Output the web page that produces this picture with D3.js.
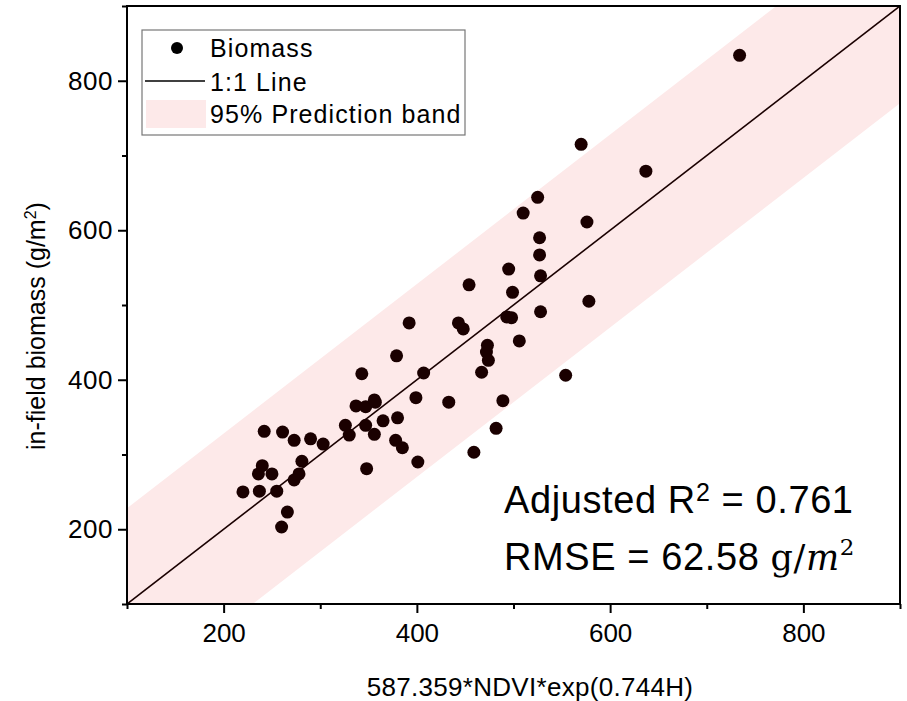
<!DOCTYPE html>
<html>
<head>
<meta charset="utf-8">
<script src="https://cdn.jsdelivr.net/npm/d3@7"></script>
<style>
  body { margin: 0; background: #fff; }
  text { font-family: "Liberation Sans", Arial, sans-serif; fill: #000; }
</style>
</head>
<body>
<div id="chart"></div>
<script>
// predicted biomass (587.359*NDVI*exp(0.744H))
const predicted = [734, 570, 637, 525, 510, 576, 527, 527, 495, 528, 454, 499, 578, 528, 493, 498,
  392, 443, 448, 506, 473, 472, 474, 467, 379, 343, 407, 554, 337, 347, 356, 357, 399, 433, 489,
  242, 261, 273, 290, 303, 326, 330, 347, 365, 380, 356, 378, 385, 401, 348, 281, 278, 273, 240,
  236, 250, 220, 237, 255, 266, 260, 482, 459];
// in-field biomass (g/m2)
const measured = [834, 715, 679, 644, 623, 611, 590, 567, 548, 539, 527, 517, 505, 491, 484, 483,
  476, 476, 468, 452, 446, 437, 426, 410, 432, 408, 409, 406, 365, 364, 373, 370, 376, 370, 372,
  331, 330, 319, 321, 314, 339, 326, 339, 345, 349, 327, 319, 309, 290, 281, 291, 274, 266, 285,
  274, 274, 250, 251, 251, 223, 203, 335, 303];

// 95% prediction band edges
const bandX = [100, 900];
const bandLower = [-30, 770];
const bandUpper = [228, 1028];

const majorTicks = [200, 400, 600, 800];
const minorTicks = [100, 300, 500, 700, 900];

const W = 907, H = 701;
const margin = { top: 6, right: 7, bottom: 97, left: 127 };
const width = W - margin.left - margin.right;
const height = H - margin.top - margin.bottom;

const svg = d3.select('#chart').append('svg')
  .attr('width', W)
  .attr('height', H);

const g = svg.append('g')
  .attr('transform', `translate(${margin.left},${margin.top})`);

const x = d3.scaleLinear().domain([100, 900]).range([0, width]);
const y = d3.scaleLinear().domain([100, 900]).range([height, 0]);

g.append('defs').append('clipPath').attr('id', 'plot-clip')
  .append('rect').attr('width', width).attr('height', height);

const plot = g.append('g').attr('clip-path', 'url(#plot-clip)');

// band
const band = bandX.map((v, i) => ({ x: v, lo: bandLower[i], hi: bandUpper[i] }));
plot.append('path')
  .datum(band)
  .attr('fill', '#fde9e9')
  .attr('d', d3.area().x(d => x(d.x)).y0(d => y(d.lo)).y1(d => y(d.hi)));

// 1:1 line
plot.append('line')
  .attr('x1', x(100)).attr('y1', y(100))
  .attr('x2', x(900)).attr('y2', y(900))
  .attr('stroke', '#1a0000')
  .attr('stroke-width', 1.6);

// points
plot.selectAll('.pt')
  .data(predicted.map((p, i) => [p, measured[i]]))
  .enter().append('circle')
  .attr('class', 'pt')
  .attr('cx', d => x(d[0]))
  .attr('cy', d => y(d[1]))
  .attr('r', 6.5)
  .attr('fill', '#1a0000');

// axes
function styleAxis(sel) {
  sel.select('.domain').remove();
  sel.selectAll('line').attr('stroke', '#000').attr('stroke-width', 2);
}

const xMajor = g.append('g').attr('transform', `translate(0,${height})`)
  .call(d3.axisBottom(x).tickValues(majorTicks).tickSize(9).tickPadding(6));
xMajor.call(styleAxis);
xMajor.selectAll('text').style('font-size', '26px').attr('dy', '0.9em');

const xMinor = g.append('g').attr('transform', `translate(0,${height})`)
  .call(d3.axisBottom(x).tickValues(minorTicks).tickSize(5).tickFormat(''));
xMinor.call(styleAxis);

const yMajor = g.append('g')
  .call(d3.axisLeft(y).tickValues(majorTicks).tickSize(9).tickPadding(5));
yMajor.call(styleAxis);
yMajor.selectAll('text').style('font-size', '26px').style('letter-spacing', '0.5px');

const yMinor = g.append('g')
  .call(d3.axisLeft(y).tickValues(minorTicks).tickSize(5).tickFormat(''));
yMinor.call(styleAxis);

// frame
g.append('rect')
  .attr('width', width).attr('height', height)
  .attr('fill', 'none')
  .attr('stroke', '#000')
  .attr('stroke-width', 2);

// axis titles
svg.append('text')
  .attr('x', 530).attr('y', 696)
  .attr('text-anchor', 'middle')
  .style('font-size', '26px')
  .style('letter-spacing', '0.3px')
  .text('587.359*NDVI*exp(0.744H)');

const yTitle = svg.append('text')
  .attr('transform', 'translate(45,326) rotate(-90)')
  .attr('text-anchor', 'middle')
  .style('font-size', '25px');
yTitle.append('tspan').text('in-field biomass (g/m');
yTitle.append('tspan').attr('dy', -9).style('font-size', '16px').text('2');
yTitle.append('tspan').attr('dy', 9).text(')');

// legend
const legend = svg.append('g');
legend.append('rect')
  .attr('x', 142).attr('y', 30)
  .attr('width', 323).attr('height', 105)
  .attr('fill', '#fff')
  .attr('stroke', '#777')
  .attr('stroke-width', 1.2);
legend.append('circle').attr('cx', 177).attr('cy', 48).attr('r', 6).attr('fill', '#000');
legend.append('line').attr('x1', 145).attr('x2', 205).attr('y1', 81).attr('y2', 81)
  .attr('stroke', '#000').attr('stroke-width', 1.6);
legend.append('rect').attr('x', 146).attr('y', 100).attr('width', 60).attr('height', 28)
  .attr('fill', '#fde9e9');
const legendLabels = ['Biomass', '1:1 Line', '95% Prediction band'];
const legendBase = [57, 91, 123];
legend.selectAll('.lt')
  .data(legendLabels)
  .enter().append('text')
  .attr('x', 210)
  .attr('y', (d, i) => legendBase[i])
  .style('font-size', '25px')
  .style('letter-spacing', '1.1px')
  .text(d => d);

// statistics
const s1 = svg.append('text').attr('x', 504).attr('y', 513)
  .style('font-size', '38px').style('letter-spacing', '0.6px');
s1.append('tspan').text('Adjusted R');
s1.append('tspan').attr('dy', -12).style('font-size', '25px').text('2');
s1.append('tspan').attr('dy', 12).text(' = 0.761');

const s2 = svg.append('text').attr('x', 504).attr('y', 570)
  .style('font-size', '38px').style('letter-spacing', '0.6px');
s2.append('tspan').text('RMSE = 62.58 ');
s2.append('tspan').style('font-family', '"DejaVu Serif", serif').style('font-size', '35px').text('g/');
s2.append('tspan').style('font-family', '"DejaVu Serif", serif').style('font-size', '35px')
  .style('font-style', 'italic').text('m');
s2.append('tspan').attr('dy', -15).style('font-family', '"DejaVu Serif", serif')
  .style('font-size', '23px').text('2');
</script>
</body>
</html>
